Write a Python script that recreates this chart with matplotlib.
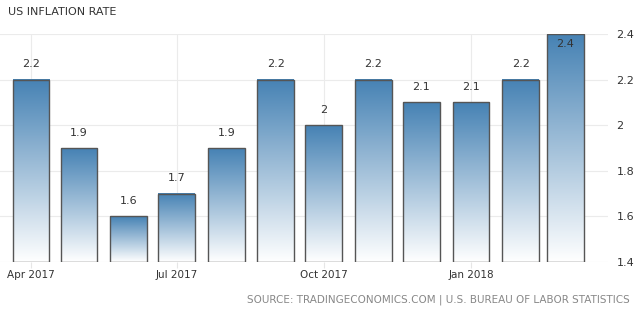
import numpy as np
import matplotlib
matplotlib.use("Agg")
import matplotlib.pyplot as plt
import matplotlib.dates as mdates
from matplotlib.patches import Rectangle
from datetime import date

# datos
months = ["2017-04", "2017-05", "2017-06", "2017-07", "2017-08", "2017-09",
          "2017-10", "2017-11", "2017-12", "2018-01", "2018-02", "2018-03"]
values = [2.2, 1.9, 1.6, 1.7, 1.9, 2.2, 2.0, 2.2, 2.1, 2.1, 2.2, 2.4]
labels = ["2.2", "1.9", "1.6", "1.7", "1.9", "2.2", "2", "2.2", "2.1", "2.1", "2.2", "2.4"]
tick_months = ["2017-04", "2017-07", "2017-10", "2018-01"]
tick_labels = ["Apr 2017", "Jul 2017", "Oct 2017", "Jan 2018"]
yticks = [1.4, 1.6, 1.8, 2.0, 2.2, 2.4]
ytick_labels = ["1.4", "1.6", "1.8", "2", "2.2", "2.4"]

def to_date(m):
    y, mo = m.split("-")
    return date(int(y), int(mo), 1)

fig = plt.figure(figsize=(6.36, 3.10), dpi=100)
ax = fig.add_axes([0, 48 / 310, 608 / 636, 228 / 310])

ymin, ymax = 1.4, 2.4
x0 = mdates.date2num(to_date("2017-04")) - 19.4
x1 = mdates.date2num(to_date("2017-04")) + 360.6

# degradado azul -> blanco
top = np.array([70, 130, 180]) / 255
bot = np.array([255, 255, 255]) / 255
t = np.linspace(0, 1, 256)[:, None]
grad = (top * (1 - t) + bot * t)[:, None, :].repeat(2, axis=1)

width = 23
for m, v, lab in zip(months, values, labels):
    xc = mdates.date2num(to_date(m))
    left = xc - width / 2
    ax.imshow(grad, extent=[left, left + width, ymin, v], aspect="auto",
              zorder=2, interpolation="bilinear")
    ax.add_patch(Rectangle((left, ymin), width, v - ymin, fill=False,
                           edgecolor="#555555", linewidth=1.0, zorder=3))
    if v >= ymax - 0.01:
        ax.text(xc, v - 0.02, lab, ha="center", va="top", fontsize=8,
                color="#333333", zorder=4)
    else:
        ax.text(xc, v + 0.045, lab, ha="center", va="bottom", fontsize=8,
                color="#333333", zorder=4)

ax.set_xlim(x0, x1)
ax.set_ylim(ymin, ymax)

ax.set_xticks([mdates.date2num(to_date(m)) for m in tick_months])
ax.set_xticklabels(tick_labels, fontsize=7.5, color="#333333")
ax.set_yticks(yticks)
ax.set_yticklabels(ytick_labels, fontsize=8, color="#333333")
ax.yaxis.tick_right()
ax.tick_params(axis="y", length=0, pad=6)
ax.tick_params(axis="x", length=4, color="#e6e6e6", pad=2)

ax.grid(True, color="#ebebeb", linewidth=0.8, zorder=0)
ax.set_axisbelow(True)
for s in ax.spines.values():
    s.set_visible(False)

fig.text(8 / 636, 1 - 12 / 310, "US INFLATION RATE", fontsize=8, color="#333333",
         va="center", ha="left")
fig.text(630 / 636, 1 - 300 / 310,
         "SOURCE: TRADINGECONOMICS.COM | U.S. BUREAU OF LABOR STATISTICS",
         fontsize=7.5, color="#888888", va="center", ha="right")

fig.savefig("out.png", dpi=100)
